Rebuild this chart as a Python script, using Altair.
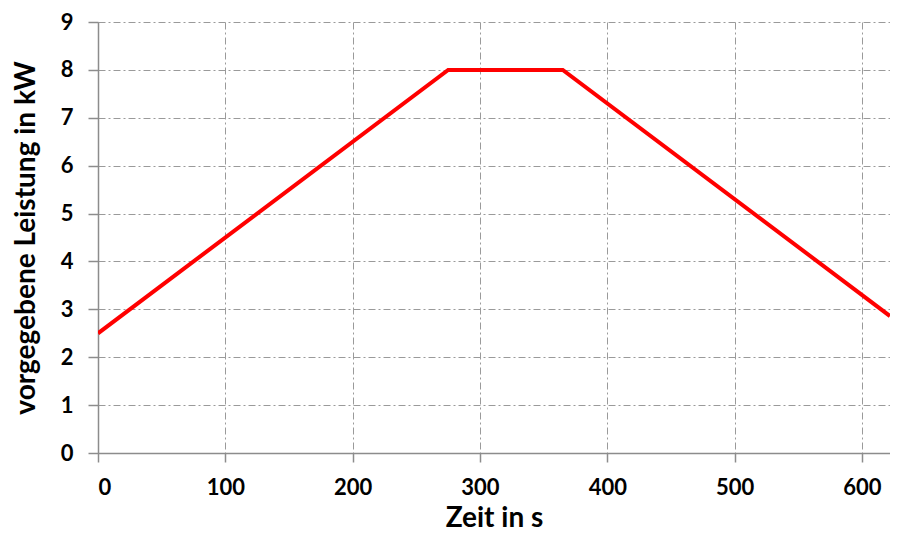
import altair as alt
import pandas as pd

# Data
zeit = [0, 275, 365, 622]
leistung = [2.5, 8.0, 8.0, 2.86]

x_ticks = [0, 100, 200, 300, 400, 500, 600]
y_ticks = [0, 1, 2, 3, 4, 5, 6, 7, 8, 9]

df = pd.DataFrame({"Zeit": zeit, "Leistung": leistung})

FONT = "Lato"

chart = alt.Chart(df).mark_line(color="#ff0000", strokeWidth=4, clip=True).encode(
    x=alt.X("Zeit:Q",
            scale=alt.Scale(domain=[0, 622], nice=False, zero=False),
            axis=alt.Axis(title="Zeit in s", values=x_ticks, format="d",
                          tickSize=9, labelPadding=15,
                          titleY=73, titleBaseline="alphabetic")),
    y=alt.Y("Leistung:Q",
            scale=alt.Scale(domain=[0, 9], nice=False),
            axis=alt.Axis(title="vorgegebene Leistung in kW", values=y_ticks, format="d",
                          tickSize=10, labelPadding=15,
                          titleX=-72, titleBaseline="middle")),
).properties(
    width=792,
    height=431,
    autosize=alt.AutoSizeParams(type="none"),
    padding={"left": 90, "top": 14, "right": 0, "bottom": 80},
).configure_view(
    stroke=None
).configure_axis(
    domainColor="#8c8c8c",
    domainWidth=1.5,
    tickColor="#8c8c8c",
    tickWidth=1.5,
    gridColor="#9a9a9a",
    gridWidth=1,
    gridDash=[7, 3, 2, 3],
    labelFont=FONT,
    labelFontSize=22,
    labelFontWeight="bold",
    labelColor="#000000",
    titleFont=FONT,
    titleFontSize=28,
    titleFontWeight="bold",
    titleColor="#000000",
)

chart.save("out.html", embed_options={"renderer": "svg", "actions": False})
